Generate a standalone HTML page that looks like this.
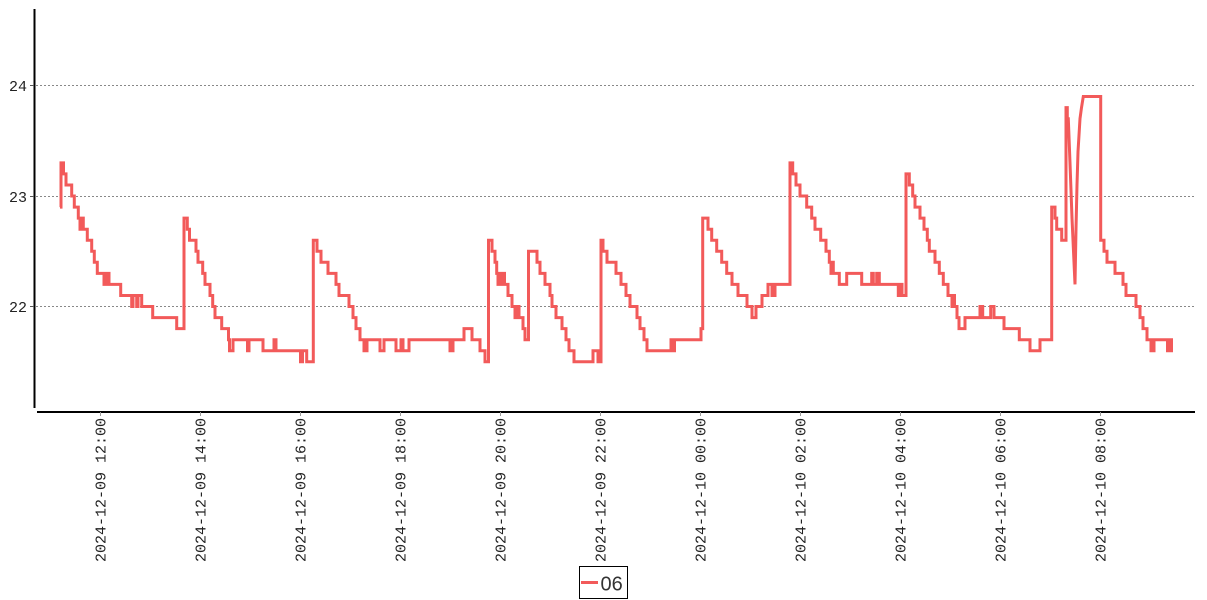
<!DOCTYPE html>
<html>
<head>
<meta charset="utf-8">
<style>
  html, body { margin: 0; padding: 0; background: #ffffff; }
  svg { display: block; }
</style>
</head>
<body>
<svg width="1207" height="600" viewBox="0 0 1207 600" xmlns="http://www.w3.org/2000/svg">
  <rect x="0" y="0" width="1207" height="600" fill="#ffffff"/>

  <!-- gridlines -->
  <g stroke="#888" stroke-width="1" stroke-dasharray="2,2">
    <line x1="36" y1="85.5" x2="1195" y2="85.5"/>
    <line x1="36" y1="196.5" x2="1195" y2="196.5"/>
    <line x1="36" y1="306.5" x2="1195" y2="306.5"/>
  </g>

  <!-- axes -->
  <line x1="34.5" y1="9" x2="34.5" y2="408" stroke="#000" stroke-width="2"/>
  <line x1="37" y1="412" x2="1195" y2="412" stroke="#000" stroke-width="2"/>

  <!-- y ticks -->
  <g stroke="#555" stroke-width="1">
    <line x1="30" y1="85.5" x2="34" y2="85.5"/>
    <line x1="30" y1="196.5" x2="34" y2="196.5"/>
    <line x1="30" y1="306.5" x2="34" y2="306.5"/>
  </g>
  <g font-family="Liberation Mono, monospace" font-size="15" fill="#222" text-anchor="end">
    <text x="27" y="91">24</text>
    <text x="27" y="202">23</text>
    <text x="27" y="312">22</text>
  </g>

  <!-- x ticks -->
  <g stroke="#999" stroke-width="1">
    <line x1="100.5" y1="412" x2="100.5" y2="416"/>
    <line x1="200.5" y1="412" x2="200.5" y2="416"/>
    <line x1="300.5" y1="412" x2="300.5" y2="416"/>
    <line x1="400.5" y1="412" x2="400.5" y2="416"/>
    <line x1="500.5" y1="412" x2="500.5" y2="416"/>
    <line x1="600.5" y1="412" x2="600.5" y2="416"/>
    <line x1="700.5" y1="412" x2="700.5" y2="416"/>
    <line x1="800.5" y1="412" x2="800.5" y2="416"/>
    <line x1="900.5" y1="412" x2="900.5" y2="416"/>
    <line x1="1000.5" y1="412" x2="1000.5" y2="416"/>
    <line x1="1100.5" y1="412" x2="1100.5" y2="416"/>
  </g>
  <g font-family="Liberation Mono, monospace" font-size="15" fill="#222" text-anchor="end">
    <text transform="translate(105.5,418) rotate(-90)">2024-12-09 12:00</text>
    <text transform="translate(205.5,418) rotate(-90)">2024-12-09 14:00</text>
    <text transform="translate(305.5,418) rotate(-90)">2024-12-09 16:00</text>
    <text transform="translate(405.5,418) rotate(-90)">2024-12-09 18:00</text>
    <text transform="translate(505.5,418) rotate(-90)">2024-12-09 20:00</text>
    <text transform="translate(605.5,418) rotate(-90)">2024-12-09 22:00</text>
    <text transform="translate(705.5,418) rotate(-90)">2024-12-10 00:00</text>
    <text transform="translate(805.5,418) rotate(-90)">2024-12-10 02:00</text>
    <text transform="translate(905.5,418) rotate(-90)">2024-12-10 04:00</text>
    <text transform="translate(1005.5,418) rotate(-90)">2024-12-10 06:00</text>
    <text transform="translate(1105.5,418) rotate(-90)">2024-12-10 08:00</text>
  </g>

  <!-- series 06 -->
  <path fill="none" stroke="#f25a5a" stroke-width="3" d="M60 207.1
H61 V162.9 H63.5 V173.9 H66 V185.0 H71.7 V196.0 H74.3 V207.1 H78.3 V218.1 H80 V229.2 H81.5 V218.1 H83.3 V229.2
H87.3 V240.2 H91.7 V251.3 H94.3 V262.3 H97.3 V273.4 H104 V284.4 H105 V273.4 H107 V284.4 H108 V273.4 H109 V284.4
H120.7 V295.5 H131.7 V306.5 H133 V295.5 H136.7 V306.5 H138 V295.5 H141.7 V306.5 H152.7 V317.6 H176.7 V328.6
H184 V218.1 H187.3 V229.2 H189.5 V240.2 H196 V251.3 H198 V262.3 H202.7 V273.4 H205 V284.4 H210 V295.5
H212.7 V306.5 H215 V317.6 H221.7 V328.6 H228.5 V339.7 H229.5 V350.7 H233 V339.7 H247.5 V350.7 H249 V339.7
H263 V350.7 H274 V339.7 H276 V350.7 H300.5 V361.8 H302.5 V350.7 H306.7 V361.8
H313.3 V240.2 H317 V251.3 H321 V262.3 H328 V273.4 H336 V284.4 H339 V295.5 H349 V306.5 H353 V317.6 H356 V328.6
H360 V339.7 H364 V350.7 H367 V339.7 H380 V350.7 H384 V339.7 H396 V350.7 H401 V339.7 H403 V350.7 H409 V339.7
H450 V350.7 H453 V339.7 H464 V328.6 H472 V339.7 H480 V350.7 H485 V361.8
H488.5 V240.2 H492 V251.3 H495 V262.3 H496.7 V273.4 H498 V284.4 H500 V273.4 H501.5 V284.4 H503 V273.4 H504.5 V284.4
H508 V295.5 H512 V306.5 H515 V317.6 H517 V306.5 H519 V317.6 H523 V328.6 H525 V339.7
H528.5 V251.3 H537 V262.3 H540 V273.4 H545 V284.4 H550 V295.5 H552 V306.5 H556 V317.6 H562 V328.6 H566 V339.7
H569 V350.7 H574 V361.8 H593 V350.7 H598 V361.8
H601 V240.2 H603 V251.3 H607 V262.3 H616 V273.4 H621 V284.4 H626 V295.5 H630 V306.5 H637 V317.6 H640 V328.6
H644 V339.7 H647 V350.7 H671 V339.7 H673 V350.7 H674.5 V339.7 H701 V328.6
H702.7 V218.1 H708 V229.2 H711.7 V240.2 H716.7 V251.3 H721.7 V262.3 H726.7 V273.4 H732 V284.4 H738 V295.5
H747 V306.5 H752 V317.6 H756 V306.5 H762 V295.5 H768 V284.4 H772 V295.5 H775 V284.4
H790 V162.9 H792.7 V173.9 H796 V185.0 H800 V196.0 H806.7 V207.1 H811.7 V218.1 H815 V229.2 H820.7 V240.2
H826 V251.3 H829.3 V262.3 H831 V273.4 H832 V262.3 H833.3 V273.4 H839.3 V284.4 H846.7 V273.4 H861.7 V284.4
H871.7 V273.4 H873.3 V284.4 H876.7 V273.4 H879.3 V284.4 H898.3 V295.5 H900 V284.4 H902 V295.5
H906 V173.9 H909.3 V185.0 H912.7 V196.0 H915 V207.1 H920 V218.1 H924 V229.2 H927.3 V240.2 H929.3 V251.3
H935 V262.3 H939.3 V273.4 H943.3 V284.4 H948 V295.5 H952 V306.5 H953 V295.5 H954.5 V306.5 H957 V317.6 H959 V328.6
H965 V317.6 H980 V306.5 H982.7 V317.6 H990.7 V306.5 H994 V317.6 H1004 V328.6 H1019.3 V339.7 H1030 V350.7 H1040 V339.7
H1051.7 V207.1 H1055 V218.1 H1056.7 V229.2 H1061.7 V240.2 H1066 V107.6 H1067.3 V118.7 H1068.3
L1070 162.9 L1072 218.1 L1074 262.3 L1075 284.4 L1076 229.2 L1077 185 L1078 151.8 L1080 118.7 L1081.5 107.6 L1083.3 96.5
H1100.7 V240.2 H1104 V251.3 H1107 V262.3 H1115 V273.4 H1123 V284.4 H1126 V295.5 H1136 V306.5 H1140 V317.6
H1143 V328.6 H1147 V339.7 H1151 V350.7 H1154 V339.7 H1167.5 V350.7 H1169.5 V339.7 H1170.5 V350.7 H1171.5 V339.7 H1173"/>

  <!-- legend -->
  <rect x="579.5" y="566.5" width="48" height="32" fill="#fff" stroke="#000" stroke-width="1"/>
  <line x1="581" y1="582.5" x2="598" y2="582.5" stroke="#f25a5a" stroke-width="3"/>
  <text x="600.5" y="590.5" font-family="Liberation Sans, sans-serif" font-size="20" fill="#333">06</text>
</svg>
</body>
</html>
